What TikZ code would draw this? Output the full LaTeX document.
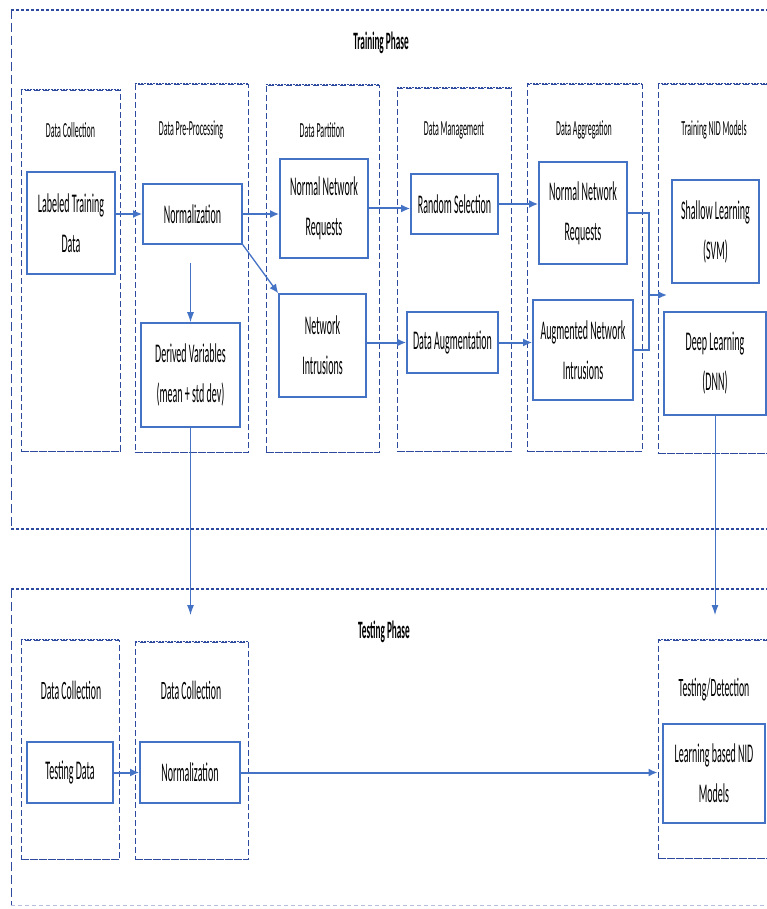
\documentclass[tikz,border=0pt]{standalone}
\usepackage{fontspec}
\setmainfont{Carlito}[FakeStretch=0.37]
\usetikzlibrary{positioning,arrows.meta}
\definecolor{boxblue}{HTML}{4472C4}
\definecolor{dashblue}{HTML}{2E4A9E}

\begin{document}
\begin{tikzpicture}[x=1pt,y=-1pt]
\tikzstyle{blk}=[rectangle, draw=boxblue, line width=1.6pt, align=center, inner sep=0pt, text=black, font=\fontsize{27}{40}\selectfont]
\tikzstyle{colbox}=[rectangle, draw=dashblue, line width=0.9pt, dash pattern=on 6pt off 3pt, inner sep=0pt]
\tikzstyle{coledge}=[draw=dashblue, line width=1.8pt, dash pattern=on 2pt off 1pt]
\tikzstyle{phase}=[draw=dashblue, line width=1pt, dash pattern=on 9pt off 4pt]
\tikzstyle{phaseedge}=[draw=dashblue, line width=1.8pt, dash pattern=on 3pt off 2pt]
\tikzstyle{hdr}=[text=black, font=\fontsize{21.5}{26}\selectfont]
\tikzstyle{thdr}=[text=black, font=\fontsize{26.5}{32}\selectfont]
\tikzstyle{title}=[text=black, font=\bfseries\fontsize{25}{30}\selectfont]
\tikzstyle{connect}=[-{Latex[length=9pt,width=8pt]}, line width=2pt, draw=boxblue]
\tikzstyle{thin}=[-{Latex[length=10pt,width=7pt]}, line width=1pt, draw=boxblue]

\useasboundingbox (0,0) rectangle (767,909);

    % the two phases
  \draw[phase] (11,10) -- (11,529);
  \draw[phaseedge] (11,10) -- (780,10) (11,529) -- (780,529);
  \draw[phase] (11,589) -- (11,905);
  \draw[phaseedge] (11,589) -- (780,589);
  \draw[draw=dashblue!35, line width=1pt, dash pattern=on 4pt off 3pt] (11,905) -- (780,905);
  \node[title] (trainttl) at (381,43) {Training Phase};
  \node[title] (testttl) at (384,632) {Testing Phase};

    % training columns
  \node[colbox, minimum width=99pt, minimum height=361pt] (tc1) at (70.5,270.5) {};
  \node[colbox, minimum width=113pt, minimum height=368pt] (tc2) at (191.5,268) {};
  \node[colbox, minimum width=113pt, minimum height=367pt] (tc3) at (322.5,268.5) {};
  \node[colbox, minimum width=114pt, minimum height=363pt] (tc4) at (454,269.5) {};
  \node[colbox, minimum width=115pt, minimum height=367pt] (tc5) at (584.5,267.5) {};
  \node[colbox, minimum width=122pt, minimum height=369pt] (tc6) at (719,268.5) {};

  \node[hdr] (h1) at (70.5,130) {Data Collection};
  \node[hdr] (h2) at (191,130) {Data Pre-Processing};
  \node[hdr] (h3) at (322,130) {Data Partition};
  \node[hdr] (h4) at (454,130) {Data Management};
  \node[hdr] (h5) at (584,130) {Data Aggregation};
  \node[hdr] (h6) at (714,130) {Training NID Models};

    % testing columns
  \node[colbox, minimum width=98pt, minimum height=219pt] (tsc1) at (70,749.5) {};
  \node[colbox, minimum width=113pt, minimum height=217pt] (tsc2) at (191.5,750.5) {};
  \node[colbox, minimum width=122pt, minimum height=218pt] (tsc6) at (719,749) {};

  \node[thdr] (th1) at (71,690) {Data Collection};
  \node[thdr] (th2) at (191,690) {Data Collection};
  \node[thdr] (th6) at (714,690) {Testing/Detection};

  \foreach \c in {tc1,tc2,tc3,tc4,tc5,tc6,tsc1,tsc2,tsc6}
    \draw[coledge] (\c.north west) -- (\c.north east) (\c.south west) -- (\c.south east);

    % boxes of the training phase
  \node[blk, minimum width=88pt, minimum height=102pt] (ltd) at (71,223) {Labeled Training\\Data};
  \node[blk, minimum width=99pt, minimum height=60pt] (norm) at (192.5,214) {Normalization};
  \node[blk, minimum width=99pt, minimum height=104pt] (dvar) at (190.5,375) {Derived Variables\\(mean + std dev)};
  \node[blk, minimum width=88pt, minimum height=99pt] (nnr) at (324,208.5) {Normal Network\\Requests};
  \node[blk, minimum width=87pt, minimum height=103pt] (nint) at (322.5,345.5) {Network\\Intrusions};
  \node[blk, minimum width=87pt, minimum height=60pt] (rsel) at (454.5,204) {Random Selection};
  \node[blk, minimum width=91pt, minimum height=61pt] (daug) at (452.5,342.5) {Data Augmentation};
  \node[blk, minimum width=88pt, minimum height=102pt] (annr) at (583,213) {Normal Network\\Requests};
  \node[blk, minimum width=100pt, minimum height=100pt] (ani) at (583,350) {Augmented Network\\Intrusions};
  \node[blk, minimum width=87pt, minimum height=103pt] (svm) at (715.5,231.5) {Shallow Learning\\(SVM)};
  \node[blk, minimum width=102pt, minimum height=103pt] (dnn) at (715,363.5) {Deep Learning\\(DNN)};

    % boxes of the testing phase
  \node[blk, minimum width=86pt, minimum height=61pt] (tdata) at (70,772.5) {Testing Data};
  \node[blk, minimum width=100pt, minimum height=61pt] (tnorm) at (190,772.5) {Normalization};
  \node[blk, minimum width=102pt, minimum height=99pt] (lnid) at (714,773.5) {Learning based NID\\Models};

    % connectors
  \coordinate (bus) at (649,295);
  \coordinate (mtip) at (667,295);
  \coordinate (dvtip) at (190.5,615);
  \coordinate (dntip) at (715,615);

  \draw[connect] (ltd.east |- norm) -- (norm);
  \draw[connect] (norm) -- (norm -| nnr.west);
  \draw[connect, line width=1.3pt] (norm.south east) -- (nint.north west);
  \draw[thin, shorten <=18pt] (norm.south -| dvar.north) -- (dvar.north);
  \draw[connect] (nnr) -- (nnr -| rsel.west);
  \draw[connect] (nint.east |- daug) -- (daug);
  \draw[connect] (rsel) -- (rsel -| annr.west);
  \draw[connect] (daug) -- (daug -| ani.west);
  \draw[connect, -] (annr.east) -| (bus);
  \draw[connect, -] (ani.east) -| (bus);
  \draw[connect] (bus) -- (mtip);
  \draw[thin] (dvar) -- (dvtip);
  \draw[thin] (dnn) -- (dntip);
  \draw[connect] (tdata) -- (tnorm);
  \draw[connect] (tnorm) -- (tnorm -| tsc6.west);

\end{tikzpicture}
\end{document}
